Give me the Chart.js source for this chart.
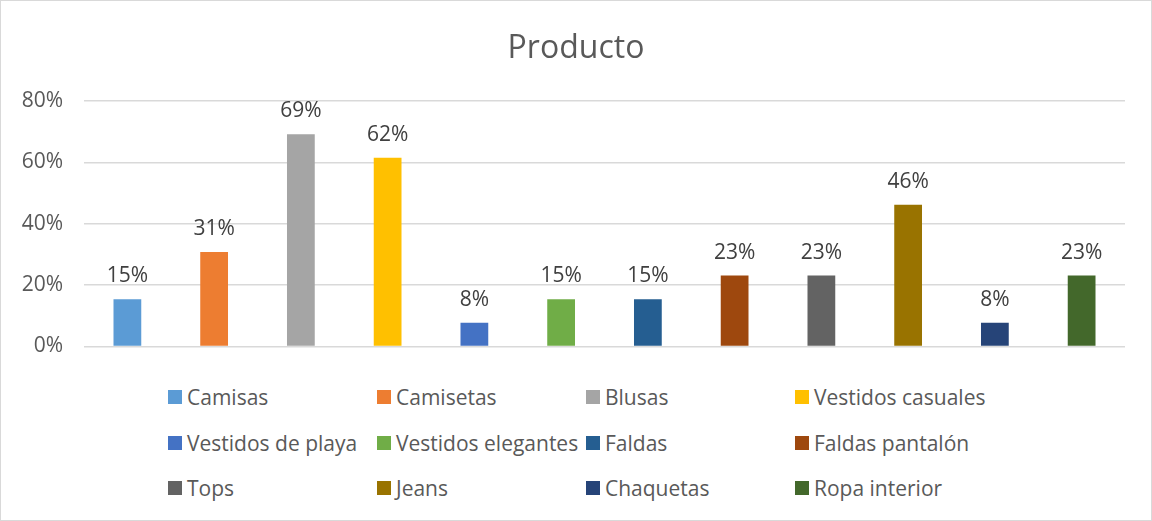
<!DOCTYPE html>
<html>
<head>
<meta charset="utf-8">
<script src="https://cdn.jsdelivr.net/npm/chart.js@4/dist/chart.umd.min.js"></script>
<style>
  body { margin: 0; background: #fff; }
  #wrap { position: relative; width: 1150px; height: 519px; border: 1px solid #d9d9d9; font-family: 'Open Sans', sans-serif; }
  #title { position: absolute; top: 23px; left: 0; width: 100%; text-align: center; font-size: 32px; color: #595959; }
  #productChart { position: absolute; left: 0; top: 0; }
  #legend { position: absolute; left: 167px; top: 381px; display: grid; grid-template-columns: 209px 209px 209px 209px; grid-auto-rows: 45.5px; font-size: 21px; color: #595959; }
  .item { display: flex; align-items: center; height: 30px; white-space: nowrap; }
  .box { width: 14px; height: 14px; margin-right: 5px; }
</style>
</head>
<body>
<div id="wrap">
  <canvas id="productChart" width="1150" height="379"></canvas>
  <div id="title">Producto</div>
  <div id="legend"></div>
</div>
<script>
const productos = ['Camisas', 'Camisetas', 'Blusas', 'Vestidos casuales', 'Vestidos de playa', 'Vestidos elegantes',
  'Faldas', 'Faldas pantalón', 'Tops', 'Jeans', 'Chaquetas', 'Ropa interior'];
const porcentajes = [0.154, 0.308, 0.692, 0.615, 0.077, 0.154, 0.154, 0.231, 0.231, 0.462, 0.077, 0.231];
const colores = ['#5B9BD5', '#ED7D31', '#A5A5A5', '#FFC000', '#4472C4', '#70AD47',
  '#255E91', '#9E480E', '#636363', '#997300', '#264478', '#43682B'];
const yTicks = [0, 0.2, 0.4, 0.6, 0.8];

// one dataset per product so each has its own legend entry
const datasets = productos.map((name, i) => ({
  label: name,
  data: productos.map((_, j) => (j === i ? porcentajes[i] : null)),
  backgroundColor: colores[i]
}));

const barLabels = {
  id: 'barLabels',
  afterDatasetsDraw(chart) {
    const ctx = chart.ctx;
    ctx.save();
    ctx.font = '21px "Open Sans", sans-serif';
    ctx.fillStyle = '#404040';
    ctx.textAlign = 'center';
    ctx.textBaseline = 'alphabetic';
    chart.data.datasets.forEach((ds, i) => {
      const meta = chart.getDatasetMeta(i);
      meta.data.forEach((bar, j) => {
        if (ds.data[j] == null) return;
        ctx.fillText(Math.round(ds.data[j] * 100) + '%', bar.x, bar.y - 17);
      });
    });
    ctx.restore();
  }
};

new Chart(document.getElementById('productChart'), {
  type: 'bar',
  data: { labels: productos, datasets: datasets },
  options: {
    responsive: false,
    animation: false,
    skipNull: true,
    layout: { padding: { top: 100, right: 26, bottom: 25, left: 0 } },
    plugins: { legend: { display: false }, tooltip: { enabled: false } },
    datasets: { bar: { categoryPercentage: 1, barPercentage: 0.32 } },
    scales: {
      x: { display: false },
      y: {
        min: 0,
        max: 0.8,
        afterFit(scale) { scale.width = 83; },
        afterBuildTicks(scale) { scale.ticks = yTicks.map(v => ({ value: v })); },
        border: { display: false },
        grid: { color: '#d9d9d9', lineWidth: 1.5, drawTicks: false },
        ticks: {
          padding: 21,
          color: '#595959',
          font: { family: '"Open Sans", sans-serif', size: 21 },
          callback: v => Math.round(v * 100) + '%'
        }
      }
    }
  },
  plugins: [barLabels]
});

const legendDiv = document.getElementById('legend');
productos.forEach((name, i) => {
  const item = document.createElement('div');
  item.className = 'item';
  item.innerHTML = '<span class="box" style="background:' + colores[i] + '"></span><span>' + name + '</span>';
  legendDiv.appendChild(item);
});
</script>
</body>
</html>
